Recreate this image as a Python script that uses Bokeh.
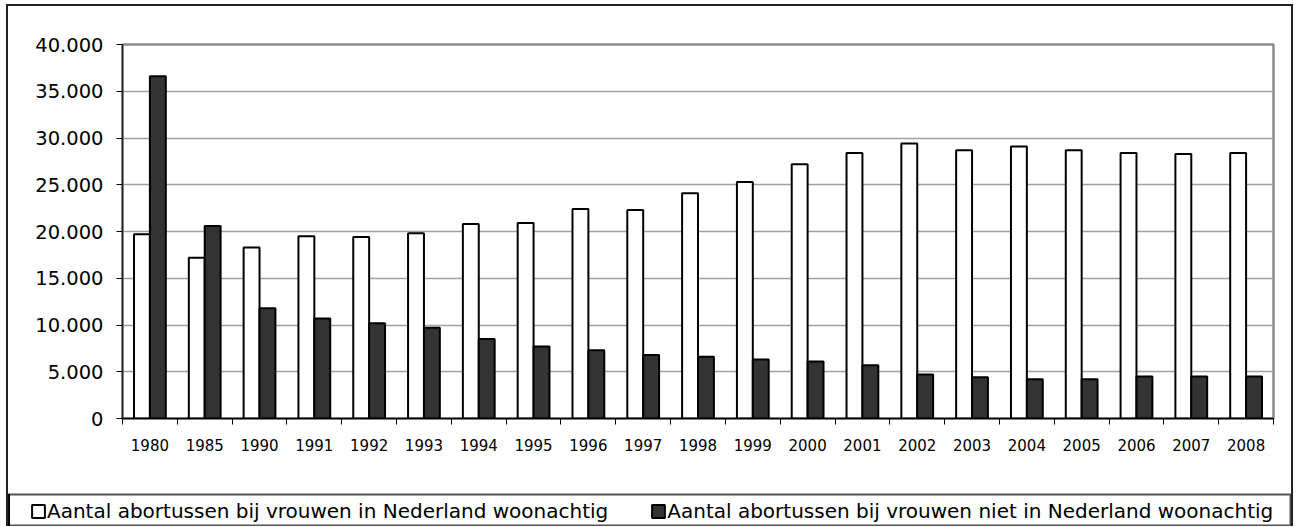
from bokeh.plotting import figure
from bokeh.layouts import column
from bokeh.models import (ColumnDataSource, FixedTicker, Legend, LegendItem, Range1d)
from bokeh.transform import dodge
from bokeh.embed import file_html
from bokeh.resources import INLINE

# ---- data -------------------------------------------------------------
years = ["1980", "1985", "1990", "1991", "1992", "1993", "1994", "1995",
         "1996", "1997", "1998", "1999", "2000", "2001", "2002", "2003",
         "2004", "2005", "2006", "2007", "2008"]
inside = [19700, 17200, 18300, 19500, 19400, 19800, 20800, 20900, 22400,
          22300, 24100, 25300, 27200, 28400, 29400, 28700, 29100, 28700,
          28400, 28300, 28400]
outside = [36600, 20600, 11800, 10700, 10200, 9700, 8500, 7700, 7300,
           6800, 6600, 6300, 6100, 5700, 4700, 4400, 4200, 4200, 4500,
           4500, 4500]
y_ticks = [0, 5000, 10000, 15000, 20000, 25000, 30000, 35000, 40000]
y_tick_labels = ["0", "5.000", "10.000", "15.000", "20.000", "25.000",
                 "30.000", "35.000", "40.000"]
label_inside = "Aantal abortussen bij vrouwen in Nederland woonachtig"
label_outside = "Aantal abortussen bij vrouwen niet in Nederland woonachtig"

FONT = "DejaVu Sans"
WHITE_STYLE = dict(fill_color="white", line_color="black", line_width=2)
DARK_STYLE = dict(fill_color="#333333", line_color="black", line_width=2)

# ---- main chart -------------------------------------------------------
idx = list(range(len(years)))
src = ColumnDataSource(dict(x=idx, inside=inside, outside=outside, year=years))

W = 1283
p = figure(width=W, height=487, output_backend="svg", toolbar_location=None,
           x_range=Range1d(-0.5, len(years) - 0.5),
           y_range=Range1d(0, 40000),
           min_border_left=114, min_border_right=18,
           min_border_top=38, min_border_bottom=75)
p.background_fill_color = "white"
p.border_fill_color = "white"
p.outline_line_color = "#8c8c8c"
p.outline_line_width = 2.5

r1 = p.vbar(x=dodge("x", -0.145, range=p.x_range), top="inside", width=0.29,
            source=src, **WHITE_STYLE)
r2 = p.vbar(x=dodge("x", 0.145, range=p.x_range), top="outside", width=0.29,
            source=src, **DARK_STYLE)

xa = p.xaxis[0]
xa.ticker = FixedTicker(ticks=idx, minor_ticks=[i - 0.5 for i in range(len(years) + 1)])
xa.major_label_overrides = {i: y for i, y in enumerate(years)}
xa.major_tick_out = 0
xa.major_tick_in = 0
xa.minor_tick_out = 6
xa.minor_tick_in = 0
xa.minor_tick_line_color = "black"
xa.minor_tick_line_width = 1
xa.axis_line_color = "black"
xa.axis_line_width = 1.5
xa.major_label_text_font = FONT
xa.major_label_text_font_size = "15px"
xa.major_label_text_color = "black"
xa.major_label_standoff = 14

ya = p.yaxis[0]
ya.ticker = FixedTicker(ticks=y_ticks, minor_ticks=[])
ya.major_label_overrides = {t: l for t, l in zip(y_ticks, y_tick_labels)}
ya.major_tick_out = 6
ya.major_tick_in = 0
ya.major_tick_line_color = "black"
ya.axis_line_color = "#222222"
ya.axis_line_width = 1.5
ya.major_label_text_font = FONT
ya.major_label_text_font_size = "19.5px"
ya.major_label_text_color = "black"
ya.major_label_standoff = 13

p.xgrid.visible = False
p.ygrid.ticker = FixedTicker(ticks=y_ticks, minor_ticks=[])
p.ygrid.grid_line_color = "#a0a0a0"
p.ygrid.grid_line_width = 1.5

# ---- legend strip -----------------------------------------------------
# The strip shows the same two bar series, but its x range lies beyond the
# data, so only the legend keys and labels are visible.
lg = figure(width=W, height=33, output_backend="svg", toolbar_location=None,
            x_range=Range1d(1000, 1001), y_range=Range1d(0, 1),
            min_border_left=0, min_border_right=0,
            min_border_top=1, min_border_bottom=0)
for fig in (p, lg):
    if "frame_align" in fig.properties():
        fig.frame_align = False
lg.axis.visible = False
lg.grid.visible = False
lg.outline_line_color = "#555555"
lg.outline_line_width = 2
lg.background_fill_color = "white"
lg.border_fill_color = "white"
g1 = lg.vbar(x="x", top="inside", width=0.29, source=src, **WHITE_STYLE)
g2 = lg.vbar(x="x", top="outside", width=0.29, source=src, **DARK_STYLE)

legend = Legend(items=[LegendItem(label=label_inside, renderers=[g1]),
                       LegendItem(label=label_outside, renderers=[g2])],
                orientation="horizontal", location=(22, 3),
                padding=0, margin=0, spacing=42, label_standoff=1,
                glyph_width=16, glyph_height=16,
                border_line_color=None, background_fill_alpha=0,
                label_text_font=FONT, label_text_font_size="20px",
                label_text_color="black")
lg.add_layout(legend, "center")

layout = column(p, lg, spacing=0,
                styles={"margin-left": "6px", "margin-top": "4px",
                        "border-top": "2px solid #222222",
                        "border-left": "2px solid #222222",
                        "border-right": "2px solid #222222"})

open("out.html", "w").write(file_html(layout, INLINE))
